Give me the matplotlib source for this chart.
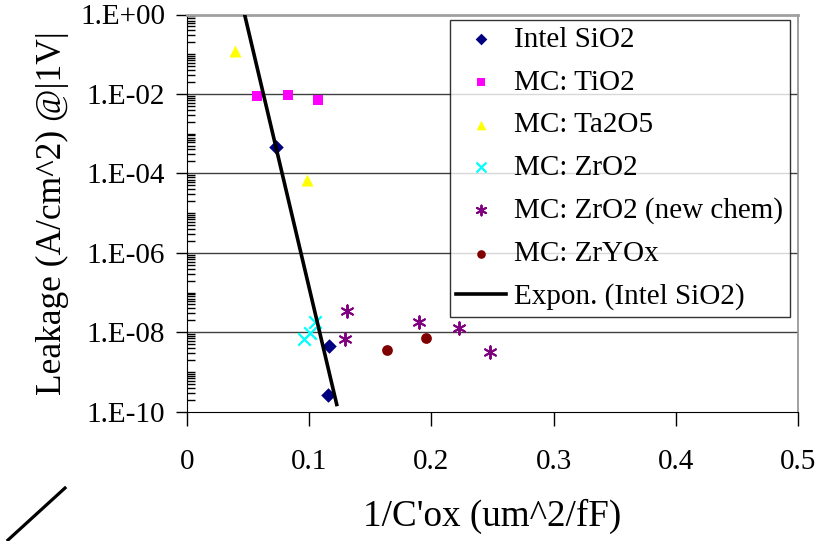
import numpy as np
import matplotlib
matplotlib.use("Agg")
import matplotlib.pyplot as plt
from matplotlib.lines import Line2D
from matplotlib.ticker import FixedLocator, LogLocator, NullFormatter, FixedFormatter

plt.rcParams['font.family'] = ['Liberation Serif', 'DejaVu Serif']

# Measured leakage at |1 V| versus inverse oxide capacitance
intel_x = [0.0727, 0.1160, 0.1156]
intel_y = [4.5e-4, 4.4e-9, 2.7e-10]

tio2_x = [0.0574, 0.0828, 0.1070]
tio2_y = [9.1e-3, 9.3e-3, 6.9e-3]

ta2o5_x = [0.0392, 0.0984]
ta2o5_y = [1.24e-1, 6.8e-5]

zro2_x = [0.0957, 0.1006, 0.1050]
zro2_y = [6.8e-9, 9.5e-9, 1.8e-8]

zro2_new_x = [0.1306, 0.1293, 0.1900, 0.2222, 0.2479]
zro2_new_y = [3.4e-8, 6.8e-9, 1.8e-8, 1.3e-8, 3.2e-9]

zryox_x = [0.1634, 0.1957]
zryox_y = [3.6e-9, 7.2e-9]

# Span over which the exponential trendline is drawn
trend_x_range = (0.0467, 0.1224)

y_tick_values = [1e0, 1e-2, 1e-4, 1e-6, 1e-8, 1e-10]
y_tick_labels = ["1.E+00", "1.E-02", "1.E-04", "1.E-06", "1.E-08", "1.E-10"]
x_tick_values = [0, 0.1, 0.2, 0.3, 0.4, 0.5]
x_tick_labels = ["0", "0.1", "0.2", "0.3", "0.4", "0.5"]

W, H = 827, 541
fig = plt.figure(figsize=(W / 100, H / 100), dpi=100)
ax = fig.add_axes([187.3 / W, 1 - 411.7 / H, (797.7 - 187.3) / W, (411.7 - 14.5) / H])

ax.set_yscale('log')
ax.set_xlim(0, 0.5)
ax.set_ylim(1e-10, 1)

# Exponential fit of the Intel SiO2 points (least squares in log space)
slope, intercept = np.polyfit(intel_x, np.log10(intel_y), 1)
fx = np.linspace(trend_x_range[0], trend_x_range[1], 200)
fy = 10 ** (slope * fx + intercept)

ax.scatter(intel_x, intel_y, marker='D', s=55, color='#000080', zorder=4, label='Intel SiO2', linewidths=0)
ax.scatter(tio2_x, tio2_y, marker='s', s=60, color='#ff00ff', zorder=4, label='MC: TiO2', linewidths=0)
ax.scatter(ta2o5_x, ta2o5_y, marker='^', s=75, color='#ffff00', zorder=4, label='MC: Ta2O5', linewidths=0)
ax.scatter(zro2_x, zro2_y, marker='x', s=80, color='#00ffff', zorder=4, label='MC: ZrO2', linewidths=1.6)
ax.scatter(zro2_new_x, zro2_new_y, marker=(6, 2, 0), s=80, color='#800080', zorder=4,
           label='MC: ZrO2 (new chem)', linewidths=1.4)
ax.scatter(zryox_x, zryox_y, marker='o', s=60, color='#800000', zorder=4, label='MC: ZrYOx', linewidths=0)
ax.plot(fx, fy, color='black', lw=2.6, zorder=5, label='Expon. (Intel SiO2)')

# Axes styling
ax.yaxis.set_major_locator(FixedLocator(y_tick_values))
ax.yaxis.set_major_formatter(FixedFormatter(y_tick_labels))
ax.yaxis.set_minor_locator(LogLocator(base=10, subs=np.arange(1, 10), numticks=50))
ax.yaxis.set_minor_formatter(NullFormatter())
ax.xaxis.set_major_locator(FixedLocator(x_tick_values))
ax.xaxis.set_major_formatter(FixedFormatter(x_tick_labels))

ax.tick_params(axis='y', which='major', direction='out', length=8, width=1, labelsize=21, pad=8)
ax.tick_params(axis='y', which='minor', direction='in', length=6, width=1)
ax.tick_params(axis='x', which='major', direction='out', length=10, width=1, labelsize=21, pad=17)
ax.tick_params(axis='x', which='minor', length=0)

for y in y_tick_values[1:-1]:
    ax.axhline(y, color='#404040', lw=1, zorder=1)

ax.spines['left'].set_color('black')
ax.spines['bottom'].set_color('black')
ax.spines['top'].set_color('#a0a0a0')
ax.spines['top'].set_linewidth(2)
ax.spines['right'].set_color('#909090')
ax.spines['right'].set_linewidth(1.2)

ax.set_ylabel("Leakage (A/cm^2) @|1V|", fontsize=25.5, labelpad=8)
ax.set_xlabel("1/C'ox (um^2/fF)", fontsize=26.7, labelpad=17)

leg = ax.legend(loc='upper right', bbox_to_anchor=(0.987, 0.986), fontsize=21,
                frameon=True, fancybox=False, shadow=False, markerscale=0.8,
                labelspacing=0.56, handlelength=1.7, handletextpad=0.3,
                borderpad=0.22, borderaxespad=0)
leg.get_frame().set_edgecolor('black')
leg.get_frame().set_linewidth(1)
leg.set_zorder(6)

# Stray connector stroke in the lower-left corner
fig.add_artist(Line2D([65 / W, 8 / W], [1 - 488 / H, 1 - 540 / H], color='black', lw=2.3,
                      transform=fig.transFigure))

fig.savefig("out.png", dpi=100)
